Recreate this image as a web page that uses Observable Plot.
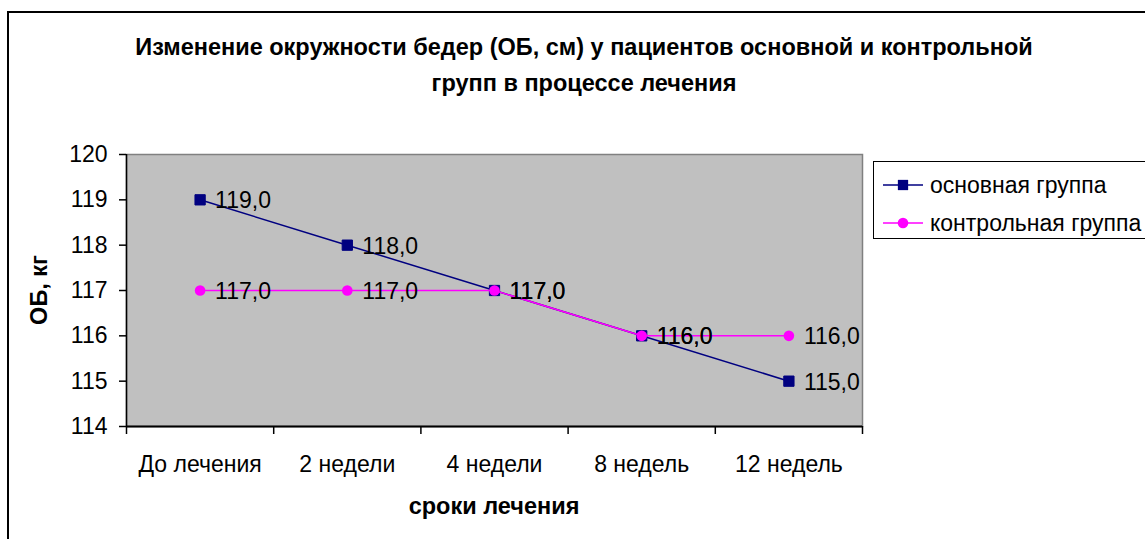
<!DOCTYPE html>
<html>
<head>
<meta charset="utf-8">
<script src="https://cdn.jsdelivr.net/npm/d3@7"></script>
<script src="https://cdn.jsdelivr.net/npm/@observablehq/plot@0.6"></script>
<style>
  body { margin: 0; background: #fff; overflow: hidden; }
  #wrap { position: relative; width: 1145px; height: 539px; overflow: hidden; }
  #wrap svg { position: absolute; left: 0; top: 0; }
  text { font-family: "Liberation Sans", Arial, sans-serif; }
</style>
</head>
<body>
<div id="wrap"></div>
<script>
const categories = ["До лечения", "2 недели", "4 недели", "8 недель", "12 недель"];
const mainGroup = [119, 118, 117, 116, 115];
const controlGroup = [117, 117, 117, 116, 116];
const yTicks = [114, 115, 116, 117, 118, 119, 120];
const seriesNames = ["основная группа", "контрольная группа"];
const seriesColors = ["#000080", "#ff00ff"];
const titleLines = ["Изменение окружности бедер (ОБ, см) у пациентов основной и контрольной", "групп в процессе лечения"];
const yTitle = "ОБ, кг";
const xTitle = "сроки лечения";

const rows = categories.map((c, i) => ({cat: c, i, main: mainGroup[i], control: controlGroup[i]}));
const fmt = v => d3.format(".1f")(v).replace(".", ",");
const xPos = d => d.i + 0.5;

const chart = Plot.plot({
  width: 1145,
  height: 539,
  marginLeft: 126,
  marginRight: 283,
  marginTop: 154,
  marginBottom: 113,
  style: {fontFamily: "'Liberation Sans', Arial, sans-serif", fontSize: "23px", background: "transparent", color: "black"},
  x: {domain: [0, categories.length]},
  y: {domain: [yTicks[0], yTicks[yTicks.length - 1]]},
  marks: [
    Plot.frame({fill: "#c0c0c0", stroke: "#808080", strokeWidth: 1.5}),
    Plot.axisY({ticks: yTicks, tickSize: 7, tickPadding: 12, tickFormat: d => String(d), label: null, strokeWidth: 1.5}),
    Plot.axisX({ticks: d3.range(0, categories.length + 1), tickSize: 8, tickFormat: () => "", label: null, strokeWidth: 1.5}),
    Plot.axisX({ticks: rows.map(xPos), tickSize: 0, tickPadding: 29, tickFormat: v => categories[Math.floor(v)], label: null}),
    Plot.ruleY([yTicks[0]], {stroke: "black", strokeWidth: 2}),
    Plot.ruleX([0], {stroke: "black", strokeWidth: 1.5}),
    Plot.line(rows, {x: xPos, y: "main", stroke: seriesColors[0], strokeWidth: 1.5}),
    Plot.dot(rows, {x: xPos, y: "main", symbol: "square", r: 5.8, fill: seriesColors[0], stroke: seriesColors[0], strokeWidth: 1}),
    Plot.line(rows, {x: xPos, y: "control", stroke: seriesColors[1], strokeWidth: 1.5}),
    Plot.dot(rows, {x: xPos, y: "control", symbol: "circle", r: 5.3, fill: seriesColors[1], stroke: "none"}),
    Plot.text(rows, {x: xPos, y: "main", text: d => fmt(d.main), textAnchor: "start", dx: 15, dy: 1, fill: "black"}),
    Plot.text(rows, {x: xPos, y: "control", text: d => fmt(d.control), textAnchor: "start", dx: 15, dy: 1, fill: "black"})
  ]
});

const wrap = document.getElementById("wrap");
wrap.appendChild(chart);

// overlay: border, title, axis titles, legend
const ov = d3.select(wrap).append("svg")
  .attr("width", 1145).attr("height", 539)
  .style("pointer-events", "none");

ov.append("rect").attr("x", 8).attr("y", 12).attr("width", 1300).attr("height", 700)
  .attr("fill", "none").attr("stroke", "black").attr("stroke-width", 2);

ov.selectAll("text.title").data(titleLines).join("text")
  .attr("class", "title")
  .attr("x", 584).attr("y", (d, i) => 55 + i * 36)
  .attr("text-anchor", "middle").attr("font-weight", "bold").attr("font-size", 23.5)
  .text(d => d);

ov.append("text").attr("transform", "translate(47,290) rotate(-90)")
  .attr("text-anchor", "middle").attr("font-weight", "bold").attr("font-size", 23.5)
  .text(yTitle);

ov.append("text").attr("x", 494).attr("y", 514)
  .attr("text-anchor", "middle").attr("font-weight", "bold").attr("font-size", 23.5)
  .text(xTitle);

ov.append("rect").attr("x", 873.5).attr("y", 161.5).attr("width", 400).attr("height", 77)
  .attr("fill", "white").attr("stroke", "black").attr("stroke-width", 1);

const symbols = [d3.symbolSquare, d3.symbolCircle];
const sizes = [Math.PI * 5.8 * 5.8, Math.PI * 5.3 * 5.3];
seriesNames.forEach((name, i) => {
  const cy = 185 + i * 38;
  const g = ov.append("g");
  g.append("line").attr("x1", 883).attr("x2", 923).attr("y1", cy).attr("y2", cy)
    .attr("stroke", seriesColors[i]).attr("stroke-width", 1.5);
  g.append("path").attr("transform", `translate(903,${cy})`)
    .attr("d", d3.symbol(symbols[i], sizes[i])())
    .attr("fill", seriesColors[i]);
  g.append("text").attr("x", 930).attr("y", cy + 8)
    .attr("font-size", 23).attr("fill", "black").text(name);
});
</script>
</body>
</html>
